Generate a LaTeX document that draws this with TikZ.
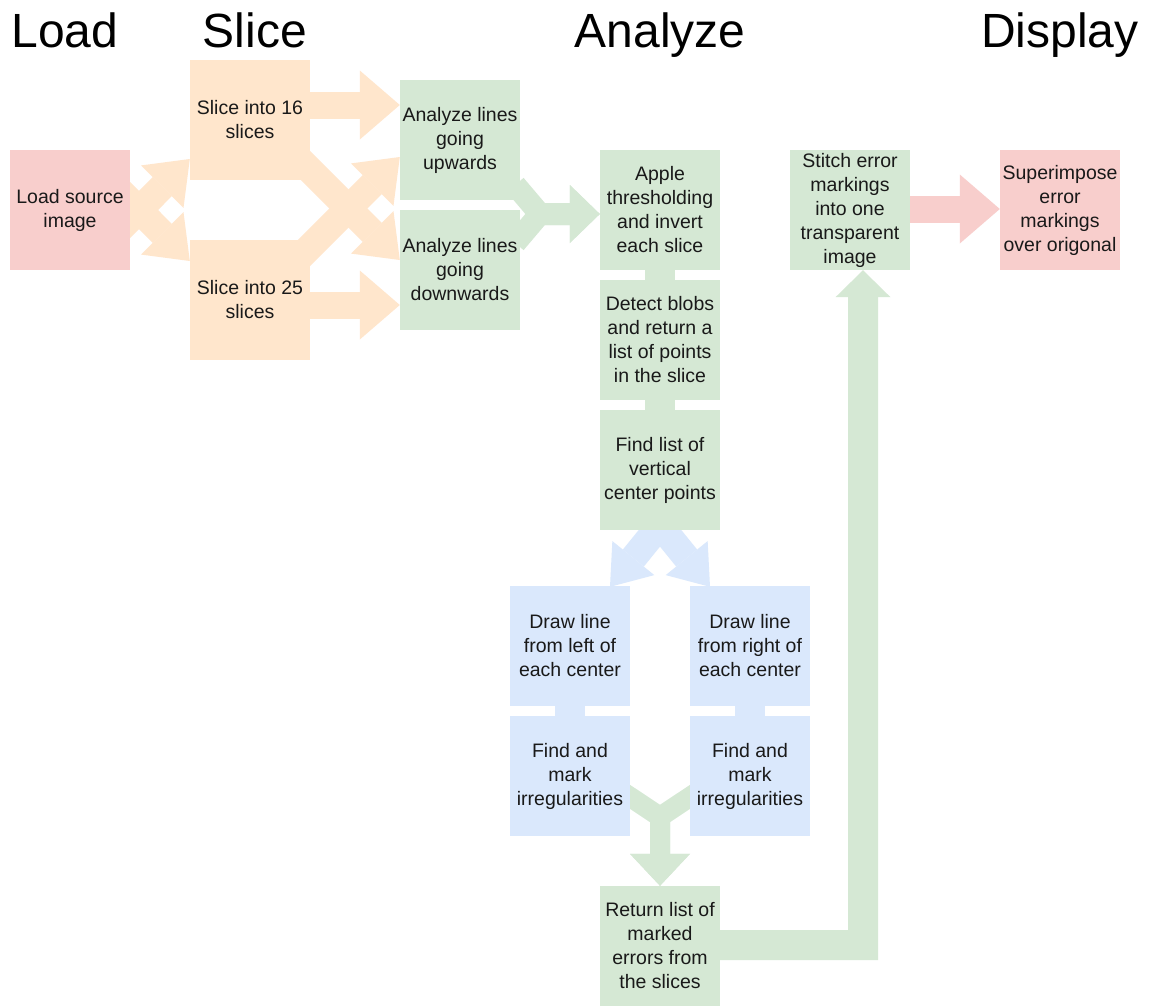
\documentclass[tikz,border=0pt]{standalone}
\usepackage{fontspec}
\setmainfont{Liberation Sans}
\usetikzlibrary{arrows.meta,calc,backgrounds}
\definecolor{cred}{HTML}{F8CECC}
\definecolor{corange}{HTML}{FFE6CC}
\definecolor{cgreen}{HTML}{D5E8D4}
\definecolor{cblue}{HTML}{DAE8FC}
\tikzset{
  box/.style={minimum width=120pt,minimum height=120pt,inner sep=0pt,align=center,
    font=\fontsize{19.5}{24}\selectfont,text=black!90},
  heading/.style={anchor=base,inner sep=0pt,font=\fontsize{48}{58}\selectfont,text=black},
  flex/.style n args={4}{draw=#1,line width=#2,line cap=butt,line join=miter,
    -{Triangle[width=#3,length=#4,line width=0pt]}},
  link/.style n args={2}{draw=#1,line width=#2,line cap=butt}
}
\begin{document}
\begin{tikzpicture}[x=1pt,y=-1pt]
\useasboundingbox (0,0) rectangle (1151,1007);

% headings
\node[heading] (hload) at (65,47) {Load};
\node[heading] (hslice) at (255,47) {Slice};
\node[heading] (hanalyze) at (660,47) {Analyze};
\node[heading] (hdisplay) at (1060,47) {Display};

% boxes
\node[box,fill=cred] (load) at (70,210) {Load source\\image};
\node[box,fill=corange] (s16) at (250,120) {Slice into 16\\slices};
\node[box,fill=corange] (s25) at (250,300) {Slice into 25\\slices};
\node[box,fill=cgreen] (aup) at (460,140) {Analyze lines\\going\\upwards};
\node[box,fill=cgreen] (adown) at (460,270) {Analyze lines\\going\\downwards};
\node[box,fill=cgreen] (apple) at (660,210) {Apple\\thresholding\\and invert\\each slice};
\node[box,fill=cgreen] (blobs) at (660,340) {Detect blobs\\and return a\\list of points\\in the slice};
\node[box,fill=cgreen] (find) at (660,470) {Find list of\\vertical\\center points};
\node[box,fill=cblue] (drawl) at (570,646) {Draw line\\from left of\\each center};
\node[box,fill=cblue] (drawr) at (750,646) {Draw line\\from right of\\each center};
\node[box,fill=cblue] (markl) at (570,776) {Find and\\mark\\irregularities};
\node[box,fill=cblue] (markr) at (750,776) {Find and\\mark\\irregularities};
\node[box,fill=cgreen] (ret) at (660,946) {Return list of\\marked\\errors from\\the slices};
\node[box,fill=cgreen] (stitch) at (850,210) {Stitch error\\markings\\into one\\transparent\\image};
\node[box,fill=cred] (sup) at (1060,210) {Superimpose\\error\\markings\\over origonal};

% junction points
\coordinate (mergeA) at ($(apple.west)+(-60,4)$);
\coordinate (mergeB) at ($(ret.north)+(0,-69)$);
\coordinate (corner) at ($(stitch.south)+(13,675)$);

\begin{scope}[on background layer]
\fill[white] (0,0) rectangle (1151,1007);
% load -> slices
\draw[flex={corange}{27pt}{60pt}{39pt}] ($(load.center)+(50,19)$) -- ($(s16.west)+(0,39)$);
\draw[flex={corange}{27pt}{60pt}{39pt}] ($(load.center)+(50,-19)$) -- ($(s25.west)+(0,-39)$);
% slices -> analyze
\draw[flex={corange}{27pt}{69pt}{40pt}] ($(s16.center)+(50,-15)$) -- ($(aup.west)+(0,-35)$);
\draw[flex={corange}{27pt}{69pt}{40pt}] ($(s25.center)+(50,5)$) -- ($(adown.west)+(0,35)$);
\draw[flex={corange}{27pt}{60pt}{39pt}] ($(s16.center)+(50,40)$) -- ($(adown.west)+(0,-10)$);
\draw[flex={corange}{27pt}{60pt}{39pt}] ($(s25.center)+(50,-43)$) -- ($(aup.west)+(0,17)$);
% analyze -> apple
\draw[flex={cgreen}{22pt}{58pt}{30pt}] ($(aup.east)+(-5,45)$) -- (mergeA) -- ($(apple.west)+(0,4)$);
\draw[flex={cgreen}{22pt}{58pt}{30pt}] ($(adown.east)+(-5,-27)$) -- (mergeA) -- ($(apple.west)+(0,4)$);
% vertical links
\draw[link={cgreen}{30pt}] (apple.south) -- (blobs.north);
\draw[link={cgreen}{30pt}] (blobs.south) -- (find.north);
\draw[link={cblue}{30pt}] (drawl.south) -- (markl.north);
\draw[link={cblue}{30pt}] (drawr.south) -- (markr.north);
% find -> draw lines
\draw[flex={cblue}{27pt}{54pt}{37pt}] ($(find.south)+(0,-5)$) -- ($(drawl.north)+(40,1)$);
\draw[flex={cblue}{27pt}{54pt}{37pt}] ($(find.south)+(0,-5)$) -- ($(drawr.north)+(-40,1)$);
% marks -> return
\draw[flex={cgreen}{20pt}{60pt}{32pt}] ($(markl.east)+(-15,11)$) -- (mergeB) -- (ret.north);
\draw[flex={cgreen}{20pt}{60pt}{32pt}] ($(markr.west)+(15,11)$) -- (mergeB) -- (ret.north);
% return -> stitch
\draw[flex={cgreen}{30pt}{55pt}{27pt}] ($(ret.east)+(-10,-1)$) -- (corner) -- ($(stitch.south)+(13,0)$);
% stitch -> superimpose
\draw[flex={cred}{27pt}{69pt}{40pt}] ($(stitch.east)+(-10,-1)$) -- ($(sup.west)+(0,-1)$);
\end{scope}
\end{tikzpicture}
\end{document}
